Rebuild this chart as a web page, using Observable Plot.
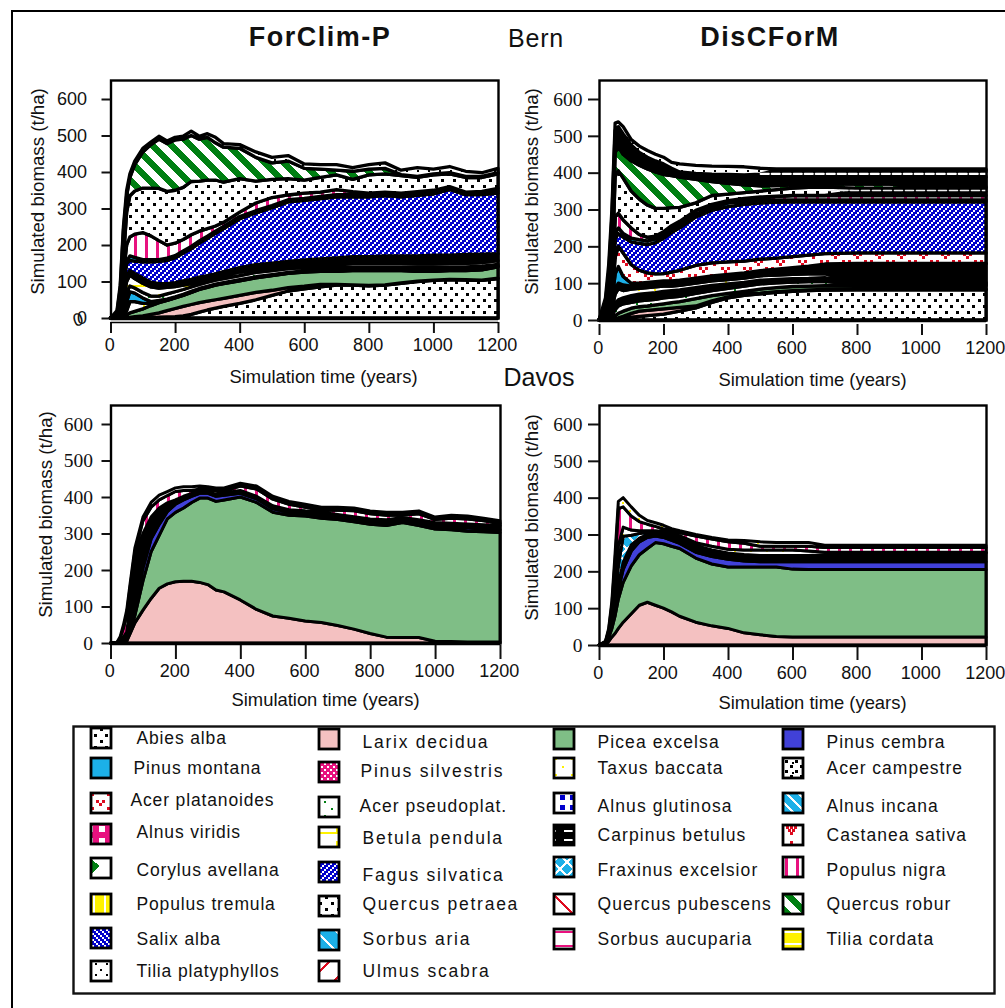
<!DOCTYPE html>
<html><head><meta charset="utf-8">
<script src="https://cdn.jsdelivr.net/npm/d3@7"></script>
<script src="https://cdn.jsdelivr.net/npm/@observablehq/plot@0.6"></script>
<style>
html,body{margin:0;padding:0;background:#fff}
#page{position:relative;width:1005px;height:1008px;overflow:hidden;background:#fff;font-family:"Liberation Sans",Arial,sans-serif;color:#111}
#border{position:absolute;left:11px;top:10px;right:-5px;bottom:-5px;border-left:2.5px solid #000;border-top:2.5px solid #000}
.hd{position:absolute;white-space:nowrap;transform:translate(-50%,-50%)}
.chart{position:absolute}
</style></head><body>
<div id="page"><div id="border"></div>
<svg width="0" height="0" style="position:absolute"><defs id="defs"></defs></svg>
<div class="hd" style="left:320px;top:37px;font-size:27px;font-weight:bold;letter-spacing:1.5px">ForClim-P</div>
<div class="hd" style="left:536px;top:38px;font-size:25px;letter-spacing:.8px">Bern</div>
<div class="hd" style="left:770px;top:37px;font-size:27px;font-weight:bold;letter-spacing:1.5px">DisCForM</div>
<div class="hd" style="left:539px;top:377px;font-size:25px">Davos</div>
</div>
<script>
// ---- tick labels and text
const xTicks=[0,200,400,600,800,1000,1200];
const yTicks=[0,100,200,300,400,500,600];
const yTitle="Simulated biomass (t/ha)";
const xTitle="Simulation time (years)";
const speciesNames=["Abies alba","Larix decidua","Picea excelsa","Pinus cembra","Pinus montana","Pinus silvestris","Taxus baccata","Acer campestre","Acer platanoides","Acer pseudoplat.","Alnus glutinosa","Alnus incana","Alnus viridis","Betula pendula","Carpinus betulus","Castanea sativa","Corylus avellana","Fagus silvatica","Fraxinus excelsior","Populus nigra","Populus tremula","Quercus petraea","Quercus pubescens","Quercus robur","Salix alba","Sorbus aria","Sorbus aucuparia","Tilia cordata","Tilia platyphyllos","Ulmus scabra"];
const speciesPatterns=["abies","larix","picea","cembra","montana","silvestris","taxus","acerC","acerP","acerS","alnusG","alnusI","alnusV","betula","carpinus","castanea","corylus","fagus","fraxinus","popN","popT","qPet","qPub","qRob","salix","sorbA","sorbU","tiliaC","tiliaP","ulmus"];

// ---- cumulative upper edge of each species band (t/ha)
const yearsForclim=[0,20,30,40,50,60,75,100,125,150,175,200,225,250,275,300,325,350,400,450,500,550,600,650,700,750,800,850,900,950,1000,1050,1100,1150,1200];
const bfAbies=[0,0,0,0,0,0,0,0,1,2,3,4,6,10,16,22,27,32,40,50,62,74,80,85,90,90,88,90,95,100,103,105,104,103,108];
const bfLarix=[0,0,0,0,1,2,4,6,10,14,20,26,32,37,42,46,50,54,62,70,76,83,87,92,92,91,89,91,96,101,104,106,105,104,109];
const bfPicea=[0,0,1,4,8,14,18,25,34,42,48,55,62,70,78,84,90,94,102,110,116,122,126,128,128,130,130,130,130,128,128,130,130,132,140];
const bfTaxus=[0,0,2,8,20,45,45,40,40,44,49,56,63,71,79,85,91,95,103,111,117,123,127,129,129,131,131,131,131,129,129,131,131,133,141];
const bfMontana=[0,1,5,20,45,72,68,55,45,48,52,58,65,73,81,87,93,97,105,113,119,125,129,131,131,133,133,133,133,131,131,133,133,135,143];
const bfAcerS=[0,2,10,40,70,88,82,70,60,60,66,72,78,85,92,98,104,108,116,125,130,135,138,139,139,140,140,140,140,138,138,140,140,142,147];
const bfBetula=[0,3,13,52,100,118,108,95,85,82,84,86,90,94,100,104,110,116,126,134,138,142,145,147,148,150,150,150,150,148,148,150,150,152,157];
const bfCarpinus=[0,3,15,60,115,130,122,110,98,94,94,97,102,106,112,116,121,127,138,146,150,155,159,162,165,168,168,170,170,170,172,172,174,175,176];
const bfFagus=[0,5,25,90,150,158,156,154,154,155,158,165,178,190,205,218,232,245,272,288,302,318,322,327,332,332,332,335,332,336,340,352,338,338,342];
const bfFraxinus=[0,6,28,95,156,170,166,160,160,160,164,171,184,196,211,224,238,251,278,294,308,324,328,333,338,338,338,341,338,342,346,358,344,344,348];
const bfPopN=[0,8,40,120,200,222,230,234,225,212,200,205,215,228,238,245,252,262,290,315,330,337,342,345,352,346,342,345,342,346,350,360,345,347,355];
const bfQPet=[0,10,60,160,290,335,348,356,356,355,347,350,358,374,375,378,378,372,382,375,380,382,378,385,392,380,392,395,390,385,392,395,385,385,395];
const bfQRob=[0,15,80,240,335,385,420,455,475,490,478,488,490,500,490,495,480,468,465,440,425,430,410,408,405,402,408,410,393,388,395,398,388,388,398];
const bfTiliaP=[0,20,90,250,350,395,430,465,482,498,485,495,498,512,498,505,495,478,475,455,440,445,422,420,420,412,420,425,405,412,408,415,402,398,410];

const yearsDiscform=[0,20,30,40,50,60,75,100,125,150,175,200,225,250,300,350,400,450,500,550,600,650,700,800,900,1000,1200];
const bdAbies=[0,0,0,1,2,3,5,8,10,12,14,16,20,24,33,48,60,67,71,75,78,80,81,82,82,82,82];
const bdLarix=[0,0,0,2,4,6,10,18,24,26,28,30,32,34,38,52,63,70,73,77,80,82,83,84,84,84,84];
const bdPicea=[0,0,1,5,12,18,24,32,36,38,41,44,47,50,58,66,72,78,84,88,91,92,93,93,93,93,93];
const bdAcerS=[0,1,3,12,28,38,44,48,52,54,56,60,62,64,72,80,86,92,98,101,103,104,105,96,96,96,96];
const bdCarpinusA=[0,2,5,20,45,55,60,66,70,72,74,78,80,82,88,94,98,102,108,110,112,113,115,99,99,99,99];
const bdTaxus=[0,3,8,30,70,85,80,84,86,88,90,92,92,94,100,106,110,114,120,122,124,125,126,102,102,102,102];
const bdCarpinusB=[0,4,12,38,85,100,95,92,94,96,98,100,100,102,108,114,118,122,128,132,136,140,150,153,153,153,153];
const bdMontana=[0,5,16,50,125,145,118,100,100,102,104,106,106,108,114,120,124,128,134,138,142,146,152,154,154,154,154];
const bdAcerP=[0,6,18,55,170,200,182,150,135,128,125,126,130,135,148,155,158,160,165,168,172,176,180,182,182,182,182];
const bdFagus=[0,8,22,70,220,235,225,212,208,205,210,222,238,250,280,298,308,314,318,320,321,321,321,321,321,321,321];
const bdFraxinus=[0,9,24,75,235,250,235,222,218,215,220,232,248,258,288,306,318,322,326,326,326,326,326,326,326,326,326];
const bdPopN=[0,10,28,90,280,290,272,250,232,225,228,240,256,268,298,314,324,330,334,336,338,338,338,338,338,338,338];
const bdCarpinusC=[0,10,28,90,280,290,272,250,232,225,228,240,256,268,298,314,324,330,334,336,338,338,338,350,350,350,350];
const bdQPet=[0,12,35,120,390,405,385,350,328,312,303,303,305,306,318,338,342,346,350,354,358,360,361,358,358,358,358];
const bdQRob=[0,15,60,135,455,470,450,432,420,410,402,395,392,388,382,376,371,367,364,365,367,368,369,369,369,362,362];
const bdCarpinusD=[0,40,100,250,480,490,470,445,432,424,416,410,405,398,392,388,386,385,385,388,388,388,388,388,388,388,388];
const bdTiliaP=[0,50,130,280,515,525,505,475,455,442,432,424,412,402,398,396,395,394,396,406,406,406,406,406,406,406,406];
const bdUlmus=[0,60,150,300,535,538,525,490,472,460,450,442,428,424,420,418,417,416,412,410,410,410,410,410,410,410,410];
const dashYearsUpper=[500,1200], dashUpper=[398,398];
const dashYearsLower=[710,1200], dashLower=[353,353];

const dfLarix=[0,0,1,2,5,25,55,90,122,150,162,168,169,169,166,160,145,140,118,92,74,68,60,56,48,38,26,16,15,15,5,4,3,3,3];
const dfPicea=[0,0,2,6,12,30,75,170,250,295,340,358,370,385,397,397,388,392,400,385,358,350,348,342,338,332,325,322,330,322,312,310,306,305,303];
const dfCembra=[0,0,3,10,20,45,105,205,285,325,360,380,392,402,410,410,402,405,410,395,368,358,355,350,345,338,332,330,336,330,320,318,315,312,310];
const dfCarpinus=[0,1,6,16,30,100,230,300,345,370,384,392,402,410,414,414,408,412,418,402,376,365,362,358,352,346,340,338,344,338,330,328,326,324,322];
const dfPopN=[0,1,14,42,80,150,250,335,372,392,404,415,418,418,422,420,417,417,430,422,394,380,372,364,364,362,354,350,350,354,338,342,340,335,328];
const dfTiliaP=[0,2,18,50,90,160,260,345,385,405,415,425,428,428,430,428,425,425,438,430,402,388,380,372,372,370,362,358,358,362,345,350,348,342,335];

const ddLarix=[0,2,10,22,32,45,62,85,108,116,108,100,90,78,62,52,45,33,28,23,22,22,22,22,22,22,22];
const ddPicea=[0,3,20,45,80,125,170,215,245,262,278,275,268,262,236,220,212,212,212,212,206,205,205,205,205,205,205];
const ddCembra=[0,5,25,55,100,150,205,255,280,292,296,292,284,276,252,240,233,228,226,226,226,226,226,226,226,226,226];
const ddCarpinus=[0,6,27,60,110,165,225,272,290,300,302,300,292,286,262,250,243,238,236,236,236,236,244,250,250,250,250];
const ddFraxinus=[0,7,30,70,135,215,295,298,303,306,308,305,298,292,270,258,250,246,243,243,243,243,246,251,251,251,251];
const ddTaxus=[0,8,35,85,175,270,320,312,310,310,310,308,303,297,278,268,260,258,258,258,258,255,252,252,252,252,252];
const ddPopN=[0,9,40,110,230,370,375,350,335,328,322,315,310,305,296,288,280,276,268,268,268,268,265,265,265,265,265];
const ddTiliaC=[0,10,45,120,250,390,400,375,352,338,332,325,316,310,300,292,285,284,280,278,278,278,271,271,271,271,271];

// ---- band tables: [fill, upper edge]
const bandsBernForclim=[["abies",bfAbies],["larix",bfLarix],["picea",bfPicea],["taxus",bfTaxus],["montana",bfMontana],["acerS",bfAcerS],["betula",bfBetula],["#000",bfCarpinus],["fagus",bfFagus],["fraxinus",bfFraxinus],["popN",bfPopN],["qPet",bfQPet],["qRob",bfQRob],["tiliaP",bfTiliaP]];
const bandsBernDiscform=[["abies",bdAbies],["larix",bdLarix],["picea",bdPicea],["acerS",bdAcerS],["#000",bdCarpinusA],["taxus",bdTaxus],["#000",bdCarpinusB],["montana",bdMontana],["acerP",bdAcerP],["fagus",bdFagus],["fraxinus",bdFraxinus],["popN",bdPopN],["#000",bdCarpinusC],["qPet",bdQPet],["qRob",bdQRob],["#000",bdCarpinusD],["#000",bdTiliaP],["tiliaP",bdUlmus]];
const bandsDavosForclim=[["larix",dfLarix],["picea",dfPicea],["cembra",dfCembra],["#000",dfCarpinus],["popN",dfPopN],["white",dfTiliaP]];
const bandsDavosDiscform=[["larix",ddLarix],["picea",ddPicea],["cembra",ddCembra],["#000",ddCarpinus],["fraxinus",ddFraxinus],["taxus",ddTaxus],["popN",ddPopN],["taxus",ddTiliaC]];

// ---- legend layout
const legendColumns=[
 {swatch:101,text:[136,133,130,136,136,136,136,136],spacing:.85,size:17.5,swY:[738,768,803,834,868,904,938,971],txY:[738,768,800,832,870,904,939,971],from:[0,4,8,12,16,20,24,28]},
 {swatch:329,text:[362,360,362,362,362,362,362],spacing:1.75,size:17.5,swY:[739,772,837,872,906,940,971],txY:[742,771,838,875,904,939,971],from:[1,5,13,17,21,25,29]},
 {swatch:329,text:[359],spacing:1.02,size:17.5,swY:[807],txY:[806],from:[9]},
 {swatch:564,text:[597,597,597,597,597,597,597],spacing:1.1,size:17.5,swY:[739,768,803,835,867,904,939],txY:[742,768,806,835,870,904,939],from:[2,6,10,14,18,22,26]},
 {swatch:793,text:[826,826,826,826,826,826,826],spacing:1,size:17.5,swY:[739,768,803,835,867,904,939],txY:[742,768,806,835,870,904,939],from:[3,7,11,15,19,23,27]}
];

// ---- fill patterns
const RED="#dd0a1e",PINK="#e8117f",BLUE="#0000cc",GREEN="#007f12",SKY="#1cb0e8",YEL="#fff200";
const r=(x,y,w,h,c)=>`<rect x="${x}" y="${y}" width="${w}" height="${h}" fill="${c}"/>`;
const diag=(p,sw,c,back)=>{let s="";for(let k=-2;k<=2;k++){s+=back?`<line x1="${k*p-p}" y1="${-p}" x2="${k*p+2*p}" y2="${2*p}" stroke="${c}" stroke-width="${sw}"/>`:`<line x1="${k*p+2*p}" y1="${-p}" x2="${k*p-p}" y2="${2*p}" stroke="${c}" stroke-width="${sw}"/>`}return s};
const tile=(id,w,h,bg,inner)=>`<pattern id="${id}" patternUnits="userSpaceOnUse" width="${w}" height="${h}" shape-rendering="crispEdges">${r(0,0,w,h,bg)}${inner}</pattern>`;
document.getElementById("defs").innerHTML=[
 tile("abies",11,12,"#fff",r(1,1,2.5,2.5,"#000")+r(6,7,2.5,2.5,"#000")),
 tile("larix",4,4,"#f4c1c1",""),
 tile("picea",4,4,"#7fbe86",""),
 tile("cembra",4,4,"#4141d8",""),
 tile("montana",4,4,SKY,""),
 tile("white",4,4,"#fff",""),
 tile("silvestris",6,6,PINK,r(0,0,2,2,"#fff")+r(3,3,2,2,"#fff")),
 tile("taxus",16,16,"#fff",r(2,3,2,2,YEL)+r(11,11,2,2,YEL)),
 tile("acerC",10,10,"#fff",r(0,0,3,3,"#000")+r(5,5,3,3,"#000")+r(2,7,2,2,"#000")),
 tile("acerP",22,14,"#fff",r(8,1,3,3,RED)+r(14,1,3,3,RED)+r(11,4,3,3,RED)+r(3,8,3,3,RED)+r(19,8,3,3,RED)+r(0,11,3,3,RED)),
 tile("acerS",14,14,"#fff",r(2,2,2,2,GREEN)+r(9,9,2,2,GREEN)),
 tile("alnusG",10,10,"#fff",r(0,0,5,5,BLUE)),
 tile("alnusI",12,12,SKY,diag(12,1.6,"#fff",true)),
 tile("alnusV",12,12,PINK,r(3,3,6,6,"#fff")),
 tile("betula",18,14,"#fff",r(0,5,18,2,YEL)+r(12,0,2,5,YEL)),
 tile("carpinus",20,20,"#000",r(4,4,12,1.5,"#fff")+r(4,15,12,1.5,"#fff")),
 tile("castanea",20,20,"#fff",r(6,11,3,3,RED)+r(10,11,3,3,RED)+r(14,11,3,3,RED)+r(8,14,3,3,RED)+r(12,14,3,3,RED)+r(10,17,3,3,RED)+r(10,6,3,3,RED)),
 tile("corylus",20,20,"#fff",`<polygon points="11,4 20,11 11,19" fill="${GREEN}"/>`),
 tile("fagus",6,6,BLUE,r(0,4,2,2,"#fff")+r(2,2,2,2,"#fff")+r(4,0,2,2,"#fff")),
 tile("fraxinus",14,14,SKY,diag(14,1.5,"#fff",false)+diag(14,1.5,"#fff",true)),
 tile("popN",11,10,"#fff",r(4,0,3,10,PINK)),
 tile("popT",11,10,YEL,r(5,0,2,10,"#fff")),
 tile("qPet",12,12,"#fff",r(1,1,3,3,"#000")+r(7,7,3,3,"#000")),
 tile("qPub",22,22,"#fff",diag(22,1.5,RED,true)),
 tile("qRob",19,19,"#fff",diag(19,6.5,GREEN,true)),
 tile("salix",6,6,BLUE,r(0,0,2,2,"#fff")+r(2,2,2,2,"#fff")+r(4,4,2,2,"#fff")),
 tile("sorbA",20,20,SKY,diag(20,1.5,"#fff",true)),
 tile("sorbU",14,14,"#fff",r(0,6,14,2,PINK)),
 tile("tiliaC",12,12,YEL,r(0,0,12,2,"#fff")),
 tile("tiliaP",11,11,"#fff",r(1,1,2,2,"#000")+r(7,6,2,2,"#000")),
 tile("ulmus",24,24,"#fff",diag(24,1.5,RED,false))
].join("");

const fillOf=k=>k.startsWith("#")?k:`url(#${k})`;
const SANS='"Liberation Sans",Arial,sans-serif',SERIF='"Liberation Serif",serif';
const page=document.getElementById("page");

function panel(o){
  const {L,R,T,B,y600,ox,oy,w,h,years,bands}=o;
  const topValue=600*(B-T)/(B-y600);
  const marks=[];
  bands.forEach(([k,upper],i)=>{
    const lower=i?bands[i-1][1]:years.map(()=>0);
    marks.push(Plot.area(years,{x1:years,y1:lower,y2:upper,fill:fillOf(k),stroke:"#000",strokeWidth:o.bandStroke,strokeLinejoin:"round"}));
  });
  (o.extra||[]).forEach(m=>marks.push(m));
  marks.push(Plot.ruleY([0],{x1:0,x2:1200,stroke:"#000",strokeWidth:3.5}));
  marks.push(Plot.frame({stroke:"#000",strokeWidth:2.4}));
  marks.push(Plot.axisY({ticks:yTicks,tickSize:o.yTick,tickPadding:o.yPad,fontSize:o.yFont===SERIF?19.5:18,fontFamily:o.yFont,strokeWidth:2,label:null,tickFormat:d=>String(d),fill:"#111"}));
  marks.push(Plot.axisX({ticks:xTicks,tickSize:o.xTick,dy:o.xDy,strokeWidth:2,label:null,tickFormat:()=>"",fill:"#111"}));
  marks.push(Plot.text(xTicks,{x:d=>d,frameAnchor:"bottom",lineAnchor:"middle",text:d=>String(d),dx:-1.2,dy:o.xLabelY-B,fontSize:18,fontFamily:SANS,fill:"#111"}));
  if(o.axisLine) marks.push(Plot.ruleY([0],{x1:0,x2:1200,dy:o.xDy,stroke:"#000",strokeWidth:1.6}));
  marks.push(Plot.text([yTitle],{frameAnchor:"left",textAnchor:"middle",rotate:-90,dx:o.yTitleX-L,dy:o.yTitleY-(T+B)/2,fontSize:18.7,fontFamily:SANS,fill:"#111"}));
  marks.push(Plot.text([xTitle],{frameAnchor:"bottom",lineAnchor:"middle",dx:o.xTitleX-(L+R)/2,dy:o.xTitleY-B,fontSize:18.4,fontFamily:SANS,fill:"#111"}));
  if(o.zeroMark) marks.push(Plot.text(["0"],{x:0,y:0,dx:-28,fontSize:18,fontFamily:SANS,textAnchor:"end",fill:"#111",rotate:-15}));
  const p=Plot.plot({width:w,height:h,marginLeft:L-ox,marginRight:ox+w-R,marginTop:T-oy,marginBottom:oy+h-B,
    x:{domain:[0,1200]},y:{domain:[0,topValue]},style:{background:"transparent",overflow:"visible"},marks});
  p.classList.add("chart");p.style.left=ox+"px";p.style.top=oy+"px";p.style.maxWidth="none";
  page.appendChild(p);
}

panel({L:110.5,R:498,T:80,B:318,y600:99,ox:20,oy:70,w:500,h:325,years:yearsForclim,bands:bandsBernForclim,bandStroke:3.3,yTick:9,yPad:15,yFont:SANS,xTick:11,xDy:4,xLabelY:345,axisLine:true,yTitleX:38,yTitleY:191,xTitleX:323,xTitleY:377,zeroMark:true});
panel({L:599,R:986,T:80,B:320,y600:99,ox:515,oy:70,w:490,h:325,years:yearsDiscform,bands:bandsBernDiscform,bandStroke:3.3,yTick:11,yPad:6,yFont:SERIF,xTick:11,xDy:4,xLabelY:348,yTitleX:532,yTitleY:191,xTitleX:812,xTitleY:380,
  extra:[Plot.line(dashYearsUpper,{x:dashYearsUpper,y:dashUpper,stroke:"#fff",strokeWidth:2.2,strokeDasharray:"8,3"}),Plot.line(dashYearsLower,{x:dashYearsLower,y:dashLower,stroke:"#eee",strokeWidth:1.6,strokeDasharray:"8,3"})]});
panel({L:110.5,R:500,T:405,B:643,y600:424,ox:20,oy:395,w:500,h:320,years:yearsForclim,bands:bandsDavosForclim,bandStroke:3,yTick:9,yPad:9,yFont:SERIF,xTick:14,xDy:2,xLabelY:671,yTitleX:46,yTitleY:514,xTitleX:325,xTitleY:700});
panel({L:599,R:986,T:405,B:645,y600:424,ox:515,oy:395,w:490,h:320,years:yearsDiscform,bands:bandsDavosDiscform,bandStroke:3,yTick:11,yPad:6,yFont:SERIF,xTick:13,xDy:2,xLabelY:673,yTitleX:532,yTitleY:517,xTitleX:812,xTitleY:703});

// ---- legend
const lgTop=715;
const legendRows=legendColumns.flatMap(c=>c.from.map((s,i)=>({name:speciesNames[s],pattern:`url(#${speciesPatterns[s]})`,sx:c.swatch,sy:c.swY[i]-lgTop,tx:c.text[i],ty:c.txY[i]-lgTop,spacing:c.spacing,size:c.size})));
const spaced=sp=>(index,scales,values,dims,ctx,next)=>{const g=next(index,scales,values,dims,ctx);g.style.letterSpacing=sp+"px";return g};
const legend=Plot.plot({width:1005,height:285,margin:0,marginLeft:73,marginRight:11,marginTop:11,marginBottom:7,
  x:{domain:[0,1005],range:[0,1005],axis:null},y:{domain:[0,285],range:[0,285],axis:null},color:{type:"identity"},
  style:{background:"transparent",overflow:"visible"},
  marks:[
    Plot.frame({stroke:"#111",strokeWidth:2.4}),
    Plot.rect(legendRows,{x1:d=>d.sx-10,x2:d=>d.sx+10,y1:d=>d.sy-10,y2:d=>d.sy+10,fill:d=>d.pattern,stroke:"#000",strokeWidth:2.8}),
    ...legendColumns.map(c=>Plot.text(legendRows.filter(d=>d.spacing===c.spacing),{x:"tx",y:"ty",text:"name",textAnchor:"start",fontSize:c.size,fontFamily:SANS,fill:"#111",render:spaced(c.spacing)}))
  ]});
legend.classList.add("chart");legend.style.left="0px";legend.style.top=lgTop+"px";legend.style.maxWidth="none";
page.appendChild(legend);
</script>
</body></html>
